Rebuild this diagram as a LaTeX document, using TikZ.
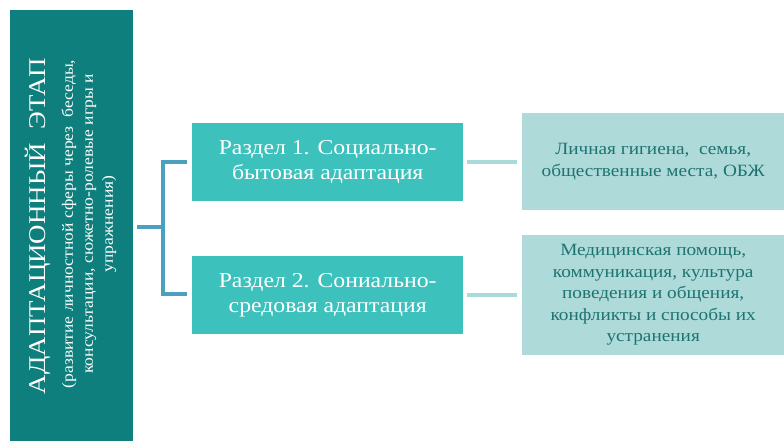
\documentclass[tikz,border=0pt]{standalone}
\usepackage{fontspec}
\setmainfont[FakeStretch=1.12]{Liberation Serif}
\definecolor{darkteal}{HTML}{0E7F7C}
\definecolor{midteal}{HTML}{3DC1BD}
\definecolor{paleteal}{HTML}{AEDBDA}
\definecolor{bracketblue}{HTML}{4AA0BE}
\definecolor{linepale}{HTML}{A9D9D8}
\definecolor{textteal}{HTML}{1E7371}
\begin{document}
\begin{tikzpicture}[x=1pt,y=-1pt,
  stage/.style={fill=darkteal,draw=none,inner sep=0pt},
  section/.style={fill=midteal,draw=none,minimum width=271pt,minimum height=78pt,anchor=north west,text=white,font=\fontsize{21.2}{25}\selectfont,align=center,inner sep=0pt},
  topic/.style={fill=paleteal,draw=none,anchor=north west,text=textteal,font=\fontsize{17.2}{21.5}\selectfont,align=center,inner sep=0pt},
  brk/.style={draw=bracketblue,line width=4pt},
  lnk/.style={draw=linepale,line width=4pt}]
\useasboundingbox (0,0) rectangle (784,441);
\fill[white] (0,0) rectangle (784,441);
\node[stage,minimum width=123pt,minimum height=431pt,anchor=north west] (st) at (10,10) {};
\node[rotate=90,text=white,font=\fontsize{24}{28}\selectfont] (title) at (38,226) {АДАПТАЦИОННЫЙ\ \ ЭТАП};
\node[rotate=90,text=white,font=\fontsize{15.7}{20}\selectfont,align=center] (sub) at (89,224) {(развитие личностной сферы через\ \ беседы,\\консультации, сюжетно-ролевые игры и\\упражнения)};
\node[section] (s1) at (192,123) {Раздел 1. Социально-\\бытовая адаптация};
\node[section] (s2) at (192,256) {Раздел 2. Сониально-\\средовая адаптация};
\node[topic,minimum width=262pt,minimum height=97pt] (t1) at (522,113) {Личная гигиена,\ \ семья,\\общественные места, ОБЖ};
\node[topic,minimum width=262pt,minimum height=120pt] (t2) at (522,235) {Медицинская помощь,\\коммуникация, культура\\поведения и общения,\\конфликты и способы их\\устранения};
\coordinate (b0) at (137,227);
\coordinate (bm) at (163,227);
\coordinate (bt) at (187,162);
\coordinate (bb) at (187,294);
\draw[brk] (b0) -- (bm);
\draw[brk,line cap=butt] (bt) -| (bm) |- (bb);
\draw[lnk] ([xshift=4pt]s1.east) -- ([xshift=-5pt]t1.west |- s1.east);
\draw[lnk] ([xshift=4pt]s2.east) -- ([xshift=-5pt]t2.west |- s2.east);
\end{tikzpicture}
\end{document}
